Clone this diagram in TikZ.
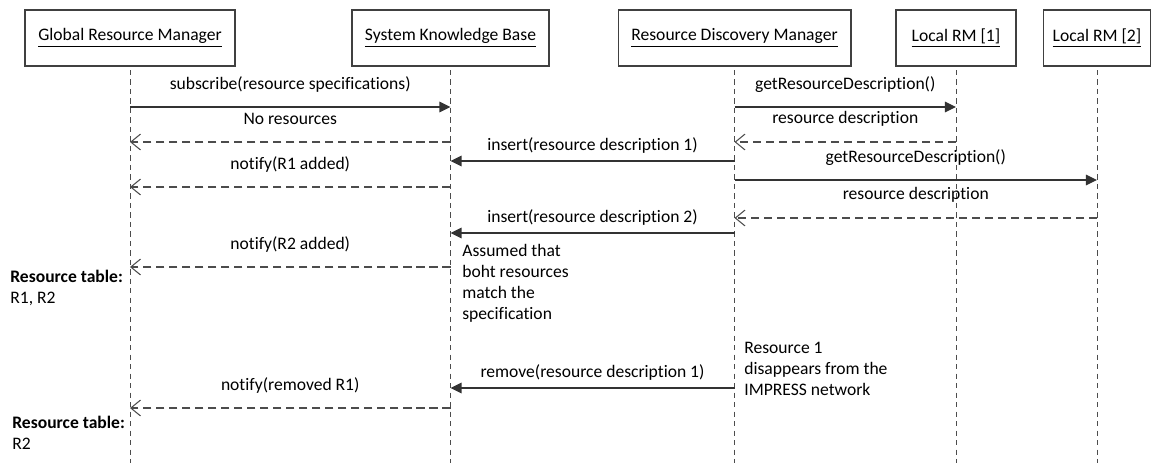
\documentclass[tikz,border=0pt]{standalone}
\usepackage{fontspec}
\setmainfont[Ligatures={NoCommon}]{Carlito}
\usetikzlibrary{arrows.meta}

\begin{document}
\begin{tikzpicture}[x=0.02cm, y=-0.02cm, font=\fontsize{10}{12}\selectfont,
  actor/.style={draw=black!75, line width=0.6pt, minimum height=1.12cm, inner sep=2pt},
  lifeline/.style={draw=black!70, line width=0.55pt, dash pattern=on 3pt off 2.4pt},
  call/.style={draw=black!80, line width=0.7pt, -{Triangle[length=6.3pt,width=6pt]}},
  reply/.style={draw=black!70, line width=0.6pt, dash pattern=on 4.6pt off 2.8pt,
    -{Straight Barb[length=5.5pt,width=9pt]}},
  lbl/.style={midway, yshift=13pt},
  lblnear/.style={midway, yshift=8.6pt},
  note/.style={anchor=north west, inner sep=0pt, align=left}]
  \useasboundingbox (0,0) rectangle (1153,463);
  % participants
  \node[actor, minimum width=4.2cm]  (grm)  at (130,38)   {\underline{Global Resource Manager}};
  \node[actor, minimum width=3.94cm] (skb)  at (450.5,38) {\underline{System Knowledge Base}};
  \node[actor, minimum width=4.66cm] (rdm)  at (734.5,38) {\underline{Resource Discovery Manager}};
  \node[actor, minimum width=2.4cm]  (lrma) at (956,38)   {\underline{Local RM [1]}};
  \node[actor, minimum width=2.14cm] (lrmb) at (1097,38)  {\underline{Local RM [2]}};
  % lifelines
  \foreach \p in {grm,skb,rdm,lrma,lrmb}
    \draw[lifeline] (\p.south |- 0,70) -- (\p.south |- 0,463);
  % subscribe + first discovery
  \draw[call] (grm.south |- 0,107) -- (skb.south |- 0,107)
    node[lbl] {subscribe(resource specifications)};
  \draw[reply] (skb.south |- 0,142) -- (grm.south |- 0,142)
    node[lbl] {No resources};
  \draw[call] (rdm.south |- 0,107) -- (lrma.south |- 0,107)
    node[lbl] {getResourceDescription()};
  \draw[reply] (lrma.south |- 0,142) -- (rdm.south |- 0,142)
    node[lbl] {resource description};
  % resource 1 inserted
  \draw[call] (rdm.south |- 0,161) -- (skb.south |- 0,161)
    node[lblnear] {insert(resource description 1)};
  \draw[reply] (skb.south |- 0,187) -- (grm.south |- 0,187)
    node[lbl] {notify(R1 added)};
  % second discovery
  \draw[call] (rdm.south |- 0,180) -- (lrmb.south |- 0,180)
    node[lbl] {getResourceDescription()};
  \draw[reply] (lrmb.south |- 0,218) -- (rdm.south |- 0,218)
    node[lbl] {resource description};
  % resource 2 inserted
  \draw[call] (rdm.south |- 0,233) -- (skb.south |- 0,233)
    node[lblnear] {insert(resource description 2)};
  \draw[reply] (skb.south |- 0,267) -- (grm.south |- 0,267)
    node[lbl] {notify(R2 added)};
  \node[note] (asm) at (462,244) {Assumed that\\boht resources\\match the\\specification};
  \node[note] (tab1) at (10,270) {\textbf{Resource table:}\\R1, R2};
  % resource 1 removed
  \node[note] (gone) at (744,342) {Resource 1\\disappears from the\\IMPRESS network};
  \draw[call] (rdm.south |- 0,388) -- (skb.south |- 0,388)
    node[lblnear] {remove(resource description 1)};
  \draw[reply] (skb.south |- 0,408) -- (grm.south |- 0,408)
    node[lbl] {notify(removed R1)};
  \node[note] (tab2) at (12,416) {\textbf{Resource table:}\\R2};
\end{tikzpicture}
\end{document}
